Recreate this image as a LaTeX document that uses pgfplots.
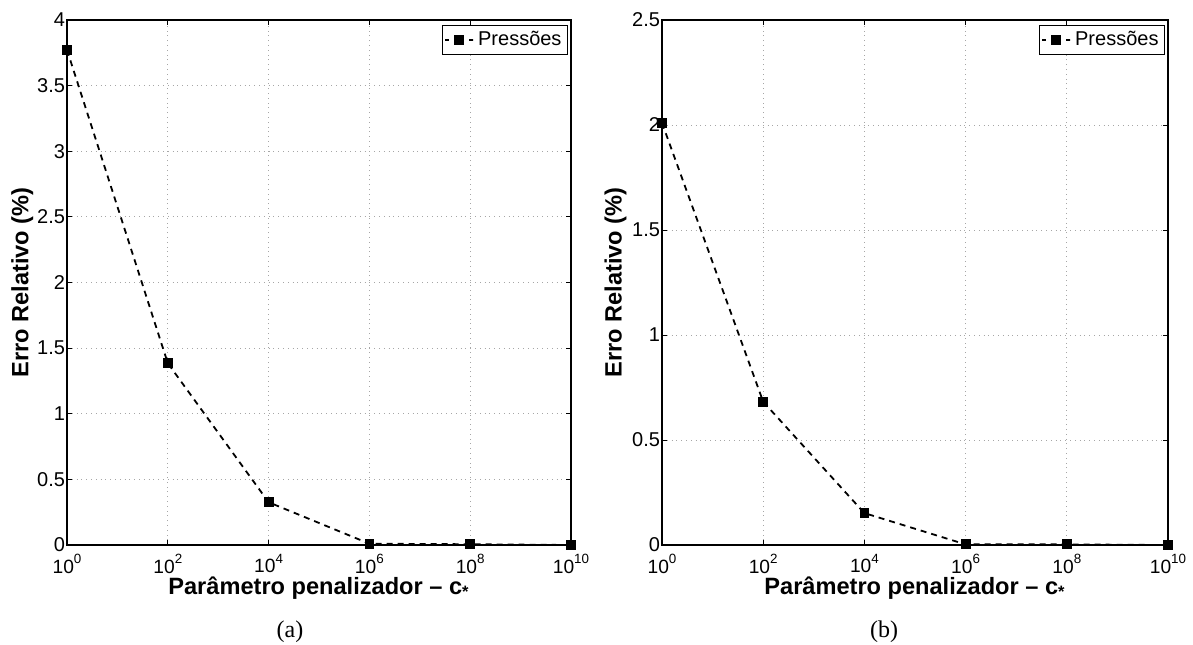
\documentclass[border=0pt]{standalone}
\usepackage{fontspec}
\setmainfont{Liberation Sans}
\newfontfamily\serif{Liberation Serif}
\usepackage{pgfplots}
\pgfplotsset{compat=1.18}
\newcommand{\tenp}[1]{10\raisebox{0.5em}{\fontsize{6.7}{7}\selectfont #1}}
\begin{document}
\begin{tikzpicture}
\useasboundingbox (0,0) rectangle (596.5pt,-322pt);
\begin{axis}[
  scale only axis,
  at={(33.5pt,-272.5pt)}, anchor=south west,
  width=252pt, height=262.5pt,
  xmode=log, xmin=1, xmax=1e10,
  ymin=0, ymax=4, ytick={0,0.5,...,4},
  xtick={1,1e2,1e4,1e6,1e8,1e10},
  xticklabels={\tenp{0},\tenp{2},\tenp{4},\tenp{6},\tenp{8},\tenp{10}},
  minor xtick={},
  xmajorgrids, ymajorgrids,
  major grid style={dotted, gray!70, line width=0.5pt},
  tick align=inside, tick pos=both, major tick length=2.5pt,
  axis line style={line width=0.6pt},
  tick style={line width=0.5pt, black},
  /pgf/number format/assume math mode=true,
  xticklabel style={font=\fontsize{9.6}{11}\selectfont, yshift=-1pt},
  yticklabel style={font=\fontsize{10}{12}\selectfont, xshift=2.5pt, /pgf/number format/fixed},
  xlabel={Parâmetro penalizador – c\textsubscript{*}},
  ylabel={Erro Relativo (\%)},
  label style={font=\bfseries\fontsize{11.8}{14}\selectfont},
  xlabel style={at={(axis description cs:0.5,-0.047)}, anchor=north},
  ylabel style={at={(axis description cs:-0.053,0.5)}, anchor=south},
  legend style={at={(1,1)}, anchor=north east, xshift=-1.5pt, yshift=-2.5pt,
      draw=black, line width=0.5pt, font=\fontsize{10}{12}\selectfont,
      inner sep=1pt},
  legend image code/.code={
    \draw[#1, dash pattern=on 2pt off 10pt on 2pt off 0pt] (0pt,0pt) -- (14pt,0pt);
    \draw[#1, solid] plot coordinates {(7pt,0pt)};},
]
\addplot[black, line width=0.9pt, dash pattern=on 3pt off 2.5pt, mark=square*, mark size=2pt, mark options={solid}] coordinates {(1,3.772) (1e2,1.385) (1e4,0.326) (1e6,0.01) (1e8,0.006) (1e10,0.0)};
\addlegendentry{Pressões}
\end{axis}
\begin{axis}[
  scale only axis,
  at={(331pt,-272.5pt)}, anchor=south west,
  width=253pt, height=262.5pt,
  xmode=log, xmin=1, xmax=1e10,
  ymin=0, ymax=2.5, ytick={0,0.5,...,2.5},
  xtick={1,1e2,1e4,1e6,1e8,1e10},
  xticklabels={\tenp{0},\tenp{2},\tenp{4},\tenp{6},\tenp{8},\tenp{10}},
  minor xtick={},
  xmajorgrids, ymajorgrids,
  major grid style={dotted, gray!70, line width=0.5pt},
  tick align=inside, tick pos=both, major tick length=2.5pt,
  axis line style={line width=0.6pt},
  tick style={line width=0.5pt, black},
  /pgf/number format/assume math mode=true,
  xticklabel style={font=\fontsize{9.6}{11}\selectfont, yshift=-1pt},
  yticklabel style={font=\fontsize{10}{12}\selectfont, xshift=2.5pt, /pgf/number format/fixed},
  xlabel={Parâmetro penalizador – c\textsubscript{*}},
  ylabel={Erro Relativo (\%)},
  label style={font=\bfseries\fontsize{11.8}{14}\selectfont},
  xlabel style={at={(axis description cs:0.5,-0.047)}, anchor=north},
  ylabel style={at={(axis description cs:-0.056,0.5)}, anchor=south},
  legend style={at={(1,1)}, anchor=north east, xshift=-1.5pt, yshift=-2.5pt,
      draw=black, line width=0.5pt, font=\fontsize{10}{12}\selectfont,
      inner sep=1pt},
  legend image code/.code={
    \draw[#1, dash pattern=on 2pt off 10pt on 2pt off 0pt] (0pt,0pt) -- (14pt,0pt);
    \draw[#1, solid] plot coordinates {(7pt,0pt)};},
]
\addplot[black, line width=0.9pt, dash pattern=on 3pt off 2.5pt, mark=square*, mark size=2pt, mark options={solid}] coordinates {(1,2.01) (1e2,0.682) (1e4,0.152) (1e6,0.003) (1e8,0.003) (1e10,0.0)};
\addlegendentry{Pressões}
\end{axis}
\node[font=\serif\fontsize{12}{14}\selectfont] at (145pt,-316pt) {(a)};
\node[font=\serif\fontsize{12}{14}\selectfont] at (442pt,-316pt) {(b)};
\end{tikzpicture}
\end{document}
